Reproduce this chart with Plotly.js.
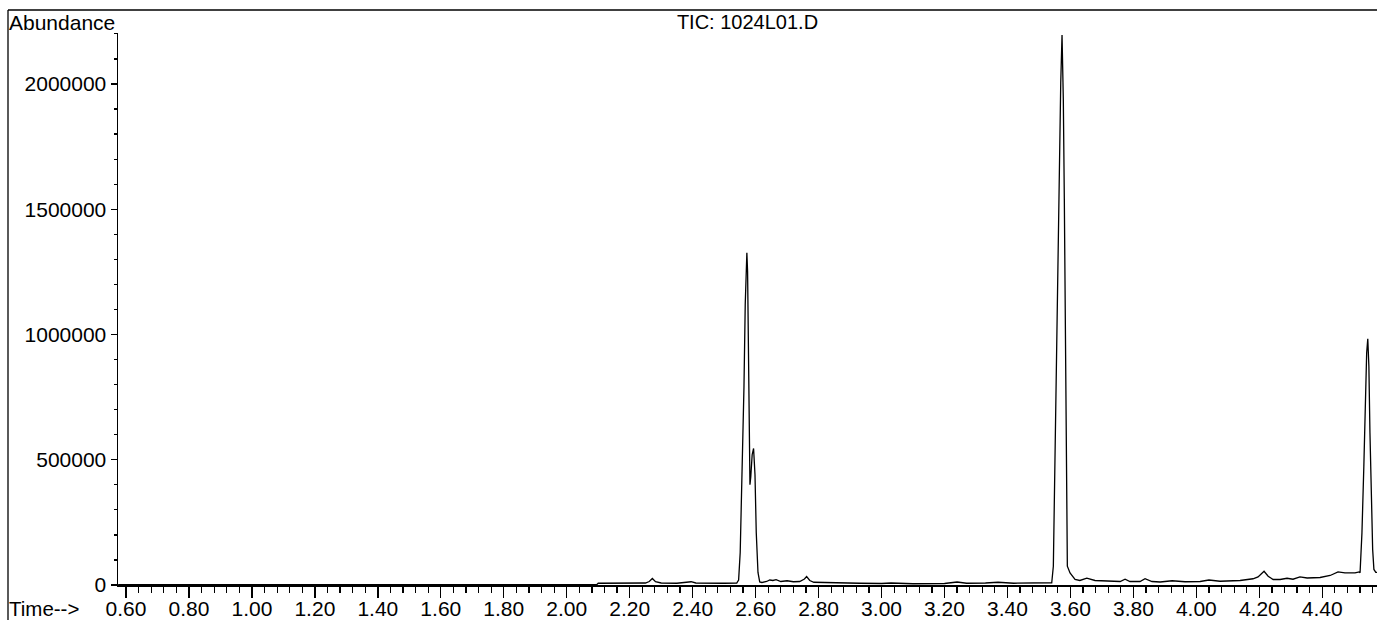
<!DOCTYPE html>
<html>
<head>
<meta charset="utf-8">
<script src="https://cdn.plot.ly/plotly-3.0.1.min.js"></script>
<style>
html,body{margin:0;padding:0;background:#fff;}
#chart{width:1377px;height:620px;}
</style>
</head>
<body>
<div id="chart"></div>
<script>
// Retention time (min)
const time = [
  0.575, 0.70, 0.85, 0.92, 1.00, 1.10, 1.30, 1.50, 1.70, 1.90, 2.095,
  2.100, 2.15, 2.20, 2.25, 2.262, 2.272, 2.282, 2.30, 2.35, 2.385, 2.395, 2.41, 2.45, 2.50, 2.54,
  2.546, 2.551, 2.5575, 2.563, 2.567, 2.5722, 2.5745, 2.577, 2.580, 2.582, 2.5845, 2.589, 2.5935, 2.598, 2.602, 2.6075, 2.613, 2.62,
  2.635, 2.645, 2.655, 2.665, 2.68, 2.70, 2.72, 2.74, 2.755, 2.762, 2.772, 2.785, 2.82, 2.87, 2.89, 2.93, 3.00, 3.03, 3.10, 3.20, 3.24, 3.27, 3.33, 3.37, 3.42, 3.50, 3.5406,
  3.5457, 3.5489, 3.5533, 3.5565, 3.5597, 3.5648, 3.5692, 3.5733, 3.5774, 3.5806, 3.5828, 3.5851, 3.5870, 3.5902,
  3.5987, 3.608, 3.6146, 3.630, 3.652, 3.678, 3.726, 3.758, 3.7735, 3.789, 3.821, 3.837, 3.859, 3.885, 3.923, 3.964, 4.012, 4.040, 4.075, 4.139, 4.180, 4.196, 4.215, 4.228, 4.244, 4.266, 4.288, 4.307, 4.329, 4.352, 4.393, 4.425, 4.450, 4.472, 4.504, 4.517,
  4.520, 4.526, 4.532, 4.536, 4.541, 4.5445, 4.548, 4.5514, 4.556, 4.560, 4.564, 4.570, 4.5738
];
// Total ion current abundance at each time
const abundance = [
  1000, 1000, 1500, 3000, 2500, 1500, 1000, 1000, 1000, 1000, 1000,
  7000, 7500, 7000, 8000, 14000, 26000, 13000, 8000, 7000, 12000, 13000, 8000, 7000, 7000, 8000,
  20000, 130000, 470000, 790000, 1120000, 1326000, 1250000, 990000, 600000, 400000, 430000, 520000, 545000, 440000, 210000, 50000, 12000, 10000,
  14000, 20000, 18000, 21000, 14000, 17000, 13000, 14000, 24000, 34000, 18000, 11000, 10000, 8000, 10000, 7000, 6000, 8000, 5000, 6000, 12000, 7000, 8000, 11000, 7000, 7000, 9000,
  75000, 341000, 609000, 873000, 1273000, 1672000, 2005000, 2195000, 1938000, 1539000, 1140000, 740000, 341000, 75000,
  48000, 35000, 22000, 18000, 27000, 18000, 14000, 14000, 23000, 14000, 14000, 25000, 14000, 12000, 17000, 13000, 14000, 20000, 15000, 18000, 25000, 32000, 55000, 35000, 22000, 22000, 27000, 23000, 32000, 28000, 30000, 38000, 52000, 48000, 48000, 52000,
  49000, 208000, 474000, 740000, 927000, 983000, 873000, 608000, 341000, 142000, 62000, 50000, 50000
];
const xTickVals = [0.6, 0.8, 1.0, 1.2, 1.4, 1.6, 1.8, 2.0, 2.2, 2.4, 2.6, 2.8, 3.0, 3.2, 3.4, 3.6, 3.8, 4.0, 4.2, 4.4];
const xTickText = ["0.60","0.80","1.00","1.20","1.40","1.60","1.80","2.00","2.20","2.40","2.60","2.80","3.00","3.20","3.40","3.60","3.80","4.00","4.20","4.40"];
const yTickVals = [0, 500000, 1000000, 1500000, 2000000];
const yTickText = ["0", "500000", "1000000", "1500000", "2000000"];

const FONT = "Liberation Sans, Arial, Helvetica, sans-serif";
const W = 1377, H = 620, ML = 118, MR = 0, MT = 33, MB = 35;
const PW = W - ML - MR, PH = H - MT - MB;
const px = x => (x - ML) / PW;          // pixel -> paper x
const py = y => (H - MB - y) / PH;      // pixel -> paper y

const trace = {
  x: time, y: abundance, type: 'scatter', mode: 'lines',
  line: {color: '#000', width: 1.3}, hoverinfo: 'x+y', showlegend: false
};

const layout = {
  width: W, height: H,
  margin: {l: ML, r: MR, t: MT, b: MB, pad: 0},
  paper_bgcolor: '#fff', plot_bgcolor: '#fff',
  font: {family: FONT, size: 21, color: '#000'},
  title: {text: 'TIC: 1024L01.D', x: 0.5, xref: 'paper', xanchor: 'center',
          y: 1 - 22 / H, yref: 'container', yanchor: 'middle',
          font: {family: FONT, size: 20, color: '#000'}},
  xaxis: {
    range: [0.5746, 4.5738], tickmode: 'array', tickvals: xTickVals, ticktext: xTickText,
    showline: true, linecolor: '#000', linewidth: 1.5, ticks: 'outside', ticklen: 11, tickwidth: 1.3,
    tickcolor: '#000', showgrid: false, zeroline: false, fixedrange: true, ticklabelstandoff: -7,
    tickfont: {family: FONT, size: 21, color: '#000'},
    minor: {dtick: 0.04, tick0: 0.6, ticks: 'outside', ticklen: 6, tickwidth: 1.2, tickcolor: '#000', showgrid: false}
  },
  yaxis: {
    range: [0, 2203400], tickmode: 'array', tickvals: yTickVals, ticktext: yTickText,
    showline: true, linecolor: '#000', linewidth: 1.5, ticks: 'outside', ticklen: 6, tickwidth: 1.3,
    tickcolor: '#000', showgrid: false, zeroline: false, fixedrange: true,
    tickfont: {family: FONT, size: 21, color: '#000'},
    minor: {dtick: 100000, tick0: 0, ticks: 'outside', ticklen: 3, tickwidth: 1.2, tickcolor: '#000', showgrid: false}
  },
  annotations: [
    {text: 'Abundance', xref: 'paper', yref: 'paper', x: px(7), y: py(22),
     xanchor: 'left', yanchor: 'middle', showarrow: false, font: {family: FONT, size: 21, color: '#000'}},
    {text: 'Time-->', xref: 'paper', yref: 'paper', x: px(7), y: py(608),
     xanchor: 'left', yanchor: 'middle', showarrow: false, font: {family: FONT, size: 20.5, color: '#000'}}
  ],
  shapes: [
    {type: 'line', xref: 'paper', yref: 'paper', x0: px(8), x1: px(1377), y0: py(10), y1: py(10),
     line: {color: '#000', width: 1.5}},
    {type: 'line', xref: 'paper', yref: 'paper', x0: px(8), x1: px(8), y0: py(10), y1: py(620),
     line: {color: '#000', width: 1.3}}
  ]
};

Plotly.newPlot('chart', [trace], layout, {displayModeBar: false, staticPlot: true});
</script>
</body>
</html>
